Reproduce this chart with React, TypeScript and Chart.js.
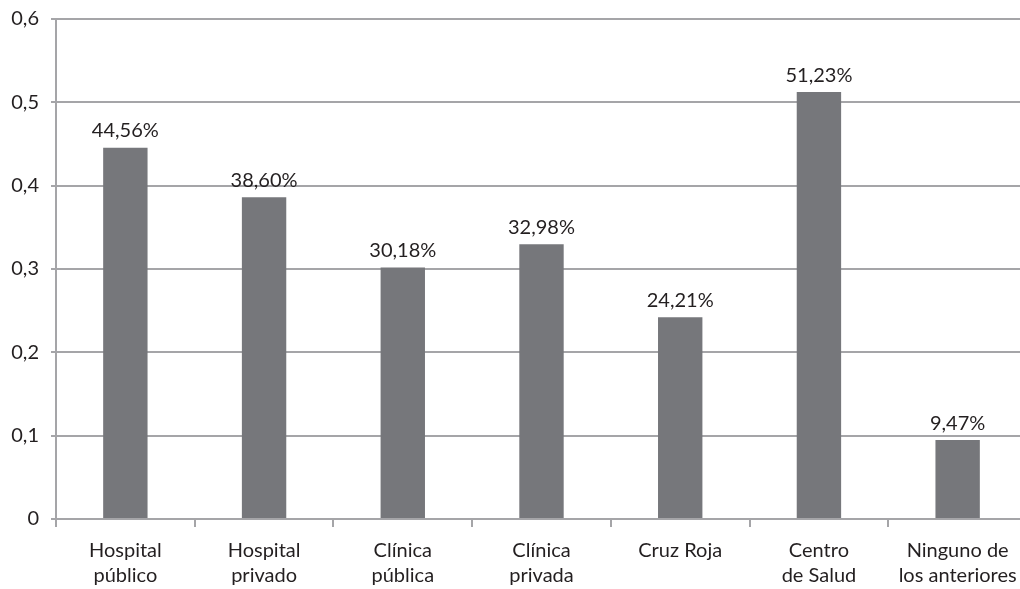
import React, { useEffect, useRef } from "react";
import { Chart, registerables } from "chart.js";

Chart.register(...registerables);

// Categories (multi-line labels on the x axis)
const categories: string[][] = [
  ["Hospital", "público"],
  ["Hospital", "privado"],
  ["Clínica", "pública"],
  ["Clínica", "privada"],
  ["Cruz Roja"],
  ["Centro", "de Salud"],
  ["Ninguno de", "los anteriores"],
];

// Share of respondents for each option
const shares: number[] = [0.4456, 0.386, 0.3018, 0.3298, 0.2421, 0.5123, 0.0947];

// Y axis tick labels (comma decimal separator)
const yTickLabels: string[] = ["0", "0,1", "0,2", "0,3", "0,4", "0,5", "0,6"];

const FONT = "Lato, 'Open Sans', sans-serif";
const TEXT = "#231f20";
const GRID = "#a5a5a8";
const BAR = "#76777b";

const formatPct = (v: number) => (v * 100).toFixed(2).replace(".", ",") + "%";

const valueLabels = {
  id: "valueLabels",
  afterDatasetsDraw(chart: any) {
    const { ctx } = chart;
    const meta = chart.getDatasetMeta(0);
    const data = chart.data.datasets[0].data as number[];
    ctx.save();
    ctx.font = `20px ${FONT}`;
    ctx.fillStyle = TEXT;
    ctx.textAlign = "center";
    ctx.textBaseline = "middle";
    meta.data.forEach((bar: any, i: number) => {
      ctx.fillText(formatPct(data[i]), bar.x, bar.y - 17);
    });
    ctx.restore();
  },
};

export default function App() {
  const canvasRef = useRef<HTMLCanvasElement | null>(null);

  useEffect(() => {
    if (!canvasRef.current) return;
    const chart = new Chart(canvasRef.current, {
      type: "bar",
      data: {
        labels: categories,
        datasets: [
          {
            data: shares,
            backgroundColor: BAR,
            borderWidth: 0,
            barPercentage: 0.32,
            categoryPercentage: 1,
          },
        ],
      },
      options: {
        responsive: false,
        animation: false,
        devicePixelRatio: 1,
        layout: { padding: { top: 19, left: 0, right: 0, bottom: 0 } },
        plugins: {
          legend: { display: false },
          tooltip: { enabled: false },
        },
        scales: {
          x: {
            offset: true,
            grid: {
              offset: true,
              drawOnChartArea: false,
              drawTicks: true,
              tickLength: 8,
              color: GRID,
              lineWidth: 2,
            },
            border: { display: true, color: GRID, width: 2 },
            ticks: {
              color: TEXT,
              font: { family: FONT, size: 20, lineHeight: 1.25 },
              padding: 11,
              maxRotation: 0,
              autoSkip: false,
            },
            afterFit(scale: any) {
              scale.height = 70;
              scale.paddingLeft = 0;
              scale.paddingRight = 0;
            },
          },
          y: {
            min: 0,
            max: 0.6,
            grid: {
              color: GRID,
              lineWidth: 2,
              drawTicks: true,
              tickLength: 5,
            },
            border: { display: true, color: GRID, width: 2 },
            ticks: {
              stepSize: 0.1,
              color: TEXT,
              font: { family: FONT, size: 20 },
              padding: 12,
              callback: (_v: any, i: number) => yTickLabels[i],
            },
            afterFit(scale: any) {
              scale.width = 56;
              scale.paddingTop = 0;
              scale.paddingBottom = 0;
            },
          },
        },
      },
      plugins: [valueLabels],
    });
    return () => chart.destroy();
  }, []);

  return (
    <div
      style={{
        position: "fixed",
        left: 0,
        top: 0,
        width: 1020,
        height: 589,
        overflow: "hidden",
        background: "#fff",
      }}
    >
      <canvas ref={canvasRef} width={1027} height={589} style={{ display: "block" }} />
    </div>
  );
}
